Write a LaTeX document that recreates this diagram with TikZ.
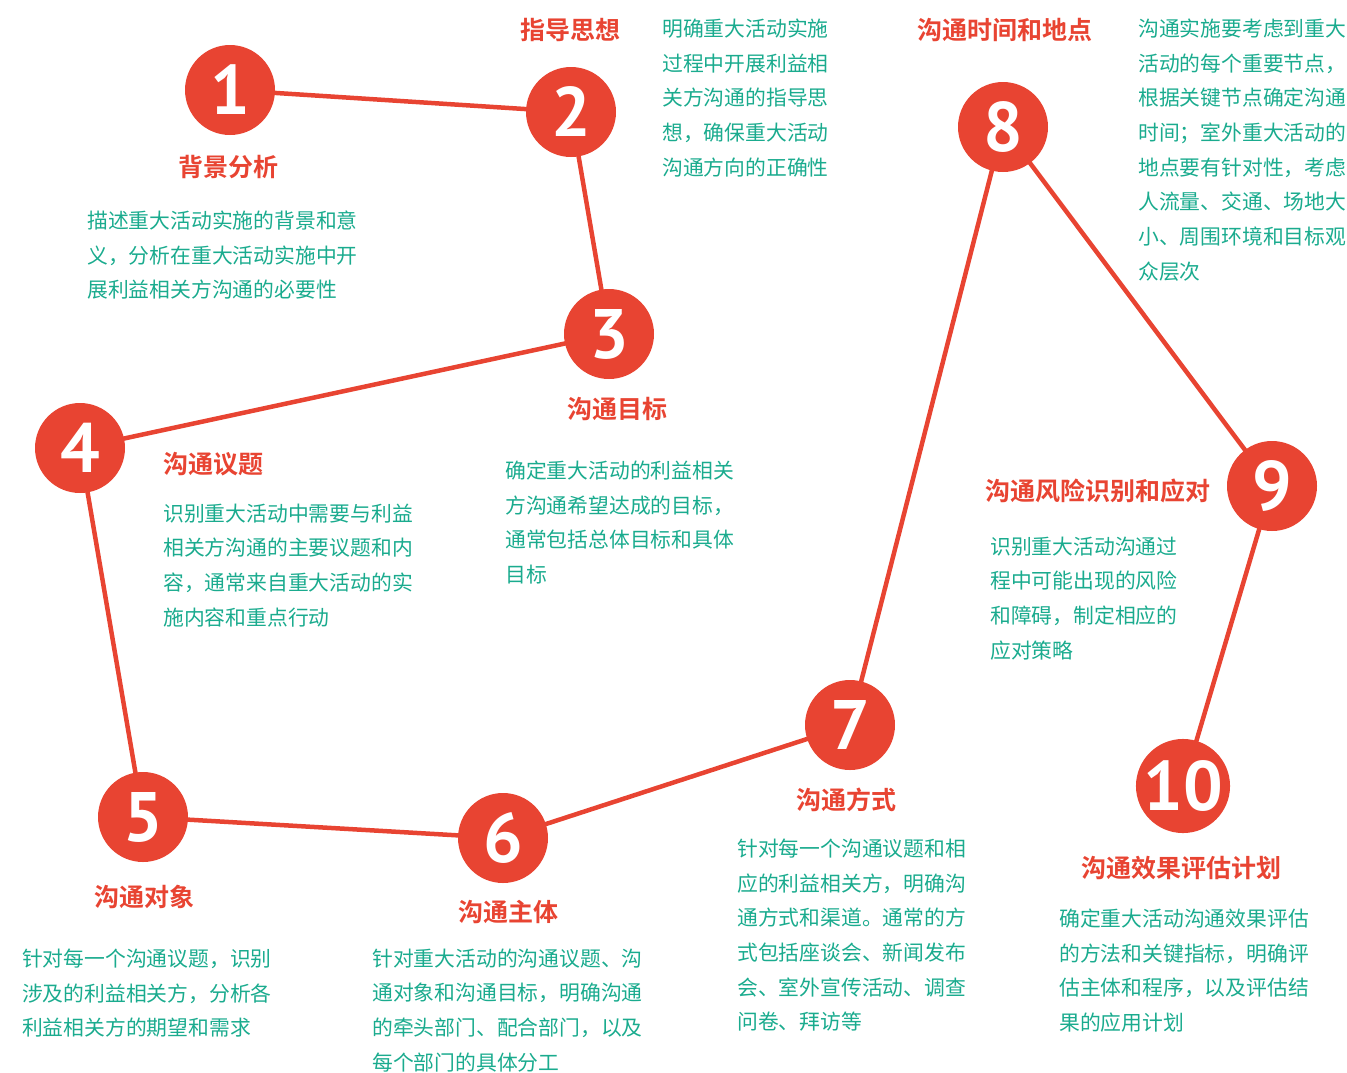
\documentclass[tikz,border=0pt]{standalone}
\usepackage{fontspec}
\setmainfont{Noto Sans CJK SC}
\newfontfamily\numfont{PT Sans}
\newfontfamily\cjkb{Noto Sans CJK SC Bold}
\usetikzlibrary{backgrounds}
\definecolor{myred}{HTML}{E84432}
\definecolor{myteal}{HTML}{1AAB8E}
\tikzset{
  numc/.style={circle, fill=myred, minimum size=90pt, inner sep=0pt, text=white, font=\numfont\bfseries\fontsize{70}{70}\selectfont},
  ttl/.style={text=myred, inner sep=0pt, font=\cjkb\fontsize{25}{25}\selectfont},
  bodytxt/.style={text=myteal, inner sep=0pt, anchor=north west, align=left, font=\fontsize{20.8}{34.7}\selectfont},
  conn/.style={draw=myred, line width=4.5pt}
}
\begin{document}
\begin{tikzpicture}[x=1pt,y=-1pt]
\useasboundingbox (0,0) rectangle (1347,1072);
\node[numc] (n1) at (230,90) {1};
\node[numc] (n2) at (571,112) {2};
\node[numc] (n3) at (609,334) {3};
\node[numc] (n4) at (80,448) {4};
\node[numc] (n5) at (143,817) {5};
\node[numc] (n6) at (503,838) {6};
\node[numc] (n7) at (850,725) {7};
\node[numc] (n8) at (1003,127) {8};
\node[numc] (n9) at (1272,486) {9};
\node[numc] (n10) at (1183,786) {10};
\begin{scope}[on background layer]
\draw[conn] (n1.center) -- (n2.center) -- (n3.center) -- (n4.center) -- (n5.center) -- (n6.center) -- (n7.center) -- (n8.center) -- (n9.center) -- (n10.center);
\end{scope}

\node[ttl] (t1) at (228,167) {背景分析};
\node[bodytxt] (b1) at (87,210.5) {描述重大活动实施的背景和意\\义，分析在重大活动实施中开\\展利益相关方沟通的必要性};

\node[ttl] (t2) at (570,30) {指导思想};
\node[bodytxt] (b2) at (662,18.5) {明确重大活动实施\\过程中开展利益相\\关方沟通的指导思\\想，确保重大活动\\沟通方向的正确性};

\node[ttl] (t3) at (617,409) {沟通目标};
\node[bodytxt] (b3) at (505,460.5) {确定重大活动的利益相关\\方沟通希望达成的目标，\\通常包括总体目标和具体\\目标};

\node[ttl, anchor=west] (t4) at (163,464) {沟通议题};
\node[bodytxt] (b4) at (163,503.5) {识别重大活动中需要与利益\\相关方沟通的主要议题和内\\容，通常来自重大活动的实\\施内容和重点行动};

\node[ttl] (t5) at (144,897) {沟通对象};
\node[bodytxt] (b5) at (22,948.5) {针对每一个沟通议题，识别\\涉及的利益相关方，分析各\\利益相关方的期望和需求};

\node[ttl] (t6) at (508,912) {沟通主体};
\node[bodytxt] (b6) at (372,948.5) {针对重大活动的沟通议题、沟\\通对象和沟通目标，明确沟通\\的牵头部门、配合部门，以及\\每个部门的具体分工};

\node[ttl] (t7) at (846,800) {沟通方式};
\node[bodytxt] (b7) at (737,838.5) {针对每一个沟通议题和相\\应的利益相关方，明确沟\\通方式和渠道。通常的方\\式包括座谈会、新闻发布\\会、室外宣传活动、调查\\问卷、拜访等};

\node[ttl] (t8) at (1005,30) {沟通时间和地点};
\node[bodytxt] (b8) at (1138,18.5) {沟通实施要考虑到重大\\活动的每个重要节点，\\根据关键节点确定沟通\\时间；室外重大活动的\\地点要有针对性，考虑\\人流量、交通、场地大\\小、周围环境和目标观\\众层次};

\node[ttl] (t9) at (1098,491) {沟通风险识别和应对};
\node[bodytxt] (b9) at (990,536.5) {识别重大活动沟通过\\程中可能出现的风险\\和障碍，制定相应的\\应对策略};

\node[ttl] (t10) at (1181,868) {沟通效果评估计划};
\node[bodytxt] (b10) at (1059,908.5) {确定重大活动沟通效果评估\\的方法和关键指标，明确评\\估主体和程序，以及评估结\\果的应用计划};
\end{tikzpicture}
\end{document}
